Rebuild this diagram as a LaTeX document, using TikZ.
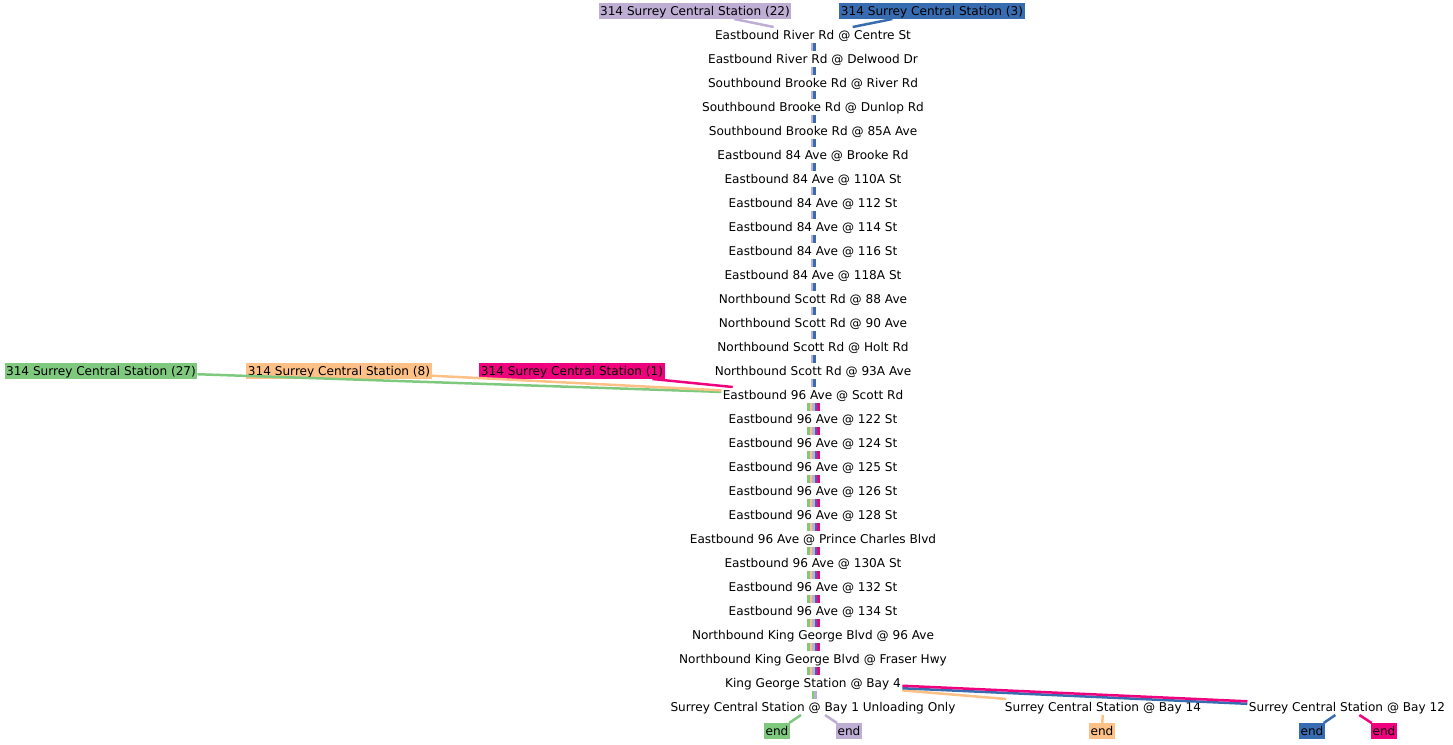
\documentclass[tikz,border=0pt]{standalone}
\usepackage{fontspec}
\setmainfont{DejaVu Sans}
\usetikzlibrary{positioning}
\definecolor{RouteGreen}{HTML}{7FC97F}
\definecolor{RouteLav}{HTML}{BEAED4}
\definecolor{RouteOrange}{HTML}{FDC086}
\definecolor{RouteBlue}{HTML}{386CB0}
\definecolor{RouteMagenta}{HTML}{F0027F}
\tikzset{
  stopbox/.style={inner xsep=1.5pt,inner ysep=0pt,outer sep=0pt,minimum height=16pt,
    text height=10pt,text depth=2pt,font=\fontsize{12.1}{14}\selectfont},
  tripbox/.style={stopbox,fill=#1},
  leg/.style={line width=2.5pt,draw=#1},
  greenflow/.style={leg=RouteGreen},
  lavflow/.style={leg=RouteLav},
  orangeflow/.style={leg=RouteOrange},
  blueflow/.style={leg=RouteBlue},
  magentaflow/.style={leg=RouteMagenta}
}
\begin{document}
\begin{tikzpicture}[x=1pt,y=1pt,node distance=8pt]
  \useasboundingbox (0,0) rectangle (1453,-744);
  % trip origins
  \node[tripbox=RouteLav] (trip22) at (695,-11) {314 Surrey Central Station (22)};
  \node[tripbox=RouteBlue] (trip3) at (932,-11) {314 Surrey Central Station (3)};
  \node[tripbox=RouteGreen] (trip27) at (101,-371) {314 Surrey Central Station (27)};
  \node[tripbox=RouteOrange] (trip8) at (339,-371) {314 Surrey Central Station (8)};
  \node[tripbox=RouteMagenta] (trip1) at (572,-371) {314 Surrey Central Station (1)};

  % stops along the route
  \node[stopbox] (s1) at (813,-35) {Eastbound River Rd @ Centre St};
  \node[stopbox,below=of s1] (s2) {Eastbound River Rd @ Delwood Dr};
  \node[stopbox,below=of s2] (s3) {Southbound Brooke Rd @ River Rd};
  \node[stopbox,below=of s3] (s4) {Southbound Brooke Rd @ Dunlop Rd};
  \node[stopbox,below=of s4] (s5) {Southbound Brooke Rd @ 85A Ave};
  \node[stopbox,below=of s5] (s6) {Eastbound 84 Ave @ Brooke Rd};
  \node[stopbox,below=of s6] (s7) {Eastbound 84 Ave @ 110A St};
  \node[stopbox,below=of s7] (s8) {Eastbound 84 Ave @ 112 St};
  \node[stopbox,below=of s8] (s9) {Eastbound 84 Ave @ 114 St};
  \node[stopbox,below=of s9] (s10) {Eastbound 84 Ave @ 116 St};
  \node[stopbox,below=of s10] (s11) {Eastbound 84 Ave @ 118A St};
  \node[stopbox,below=of s11] (s12) {Northbound Scott Rd @ 88 Ave};
  \node[stopbox,below=of s12] (s13) {Northbound Scott Rd @ 90 Ave};
  \node[stopbox,below=of s13] (s14) {Northbound Scott Rd @ Holt Rd};
  \node[stopbox,below=of s14] (s15) {Northbound Scott Rd @ 93A Ave};
  \node[stopbox,below=of s15] (s16) {Eastbound 96 Ave @ Scott Rd};
  \node[stopbox,below=of s16] (s17) {Eastbound 96 Ave @ 122 St};
  \node[stopbox,below=of s17] (s18) {Eastbound 96 Ave @ 124 St};
  \node[stopbox,below=of s18] (s19) {Eastbound 96 Ave @ 125 St};
  \node[stopbox,below=of s19] (s20) {Eastbound 96 Ave @ 126 St};
  \node[stopbox,below=of s20] (s21) {Eastbound 96 Ave @ 128 St};
  \node[stopbox,below=of s21] (s22) {Eastbound 96 Ave @ Prince Charles Blvd};
  \node[stopbox,below=of s22] (s23) {Eastbound 96 Ave @ 130A St};
  \node[stopbox,below=of s23] (s24) {Eastbound 96 Ave @ 132 St};
  \node[stopbox,below=of s24] (s25) {Eastbound 96 Ave @ 134 St};
  \node[stopbox,below=of s25] (s26) {Northbound King George Blvd @ 96 Ave};
  \node[stopbox,below=of s26] (s27) {Northbound King George Blvd @ Fraser Hwy};
  \node[stopbox,below=of s27] (s28) {King George Station @ Bay 4};
  \node[stopbox,below=of s28] (bay1) {Surrey Central Station @ Bay 1 Unloading Only};
  \node[stopbox] (bay14) at (1103,-707) {Surrey Central Station @ Bay 14};
  \node[stopbox] (bay12) at (1347,-707) {Surrey Central Station @ Bay 12};

  % trip ends
  \node[tripbox=RouteGreen] (endgreen) at (777,-731) {end};
  \node[tripbox=RouteLav] (endlav) at (849,-731) {end};
  \node[tripbox=RouteOrange] (endorange) at (1102,-731) {end};
  \node[tripbox=RouteBlue] (endblue) at (1312,-731) {end};
  \node[tripbox=RouteMagenta] (endmag) at (1384,-731) {end};

  % legs into the route
  \draw[lavflow] (trip22) -- (s1);
  \draw[blueflow] (trip3) -- (s1);
  \draw[greenflow] (trip27) -- (s16);
  \draw[orangeflow] (trip8) -- (s16);
  \draw[magentaflow] (trip1) -- (s16);

  % shared legs between stops
  \foreach \i in {1,...,15} {
    \pgfmathtruncatemacro\j{\i+1}
    \draw[lavflow] ([xshift=-0.8pt]s\i.south) -- ([xshift=-0.8pt]s\j.north);
    \draw[blueflow] ([xshift=1.7pt]s\i.south) -- ([xshift=1.7pt]s\j.north);
  }
  \foreach \i in {16,...,27} {
    \pgfmathtruncatemacro\j{\i+1}
    \draw[greenflow] ([xshift=-4.3pt]s\i.south) -- ([xshift=-4.3pt]s\j.north);
    \draw[orangeflow] ([xshift=-1.8pt]s\i.south) -- ([xshift=-1.8pt]s\j.north);
    \draw[lavflow] ([xshift=0.7pt]s\i.south) -- ([xshift=0.7pt]s\j.north);
    \draw[blueflow] ([xshift=3.2pt]s\i.south) -- ([xshift=3.2pt]s\j.north);
    \draw[magentaflow] ([xshift=5.7pt]s\i.south) -- ([xshift=5.7pt]s\j.north);
  }
  \draw[greenflow] ([xshift=-0.2pt]s28.south) -- ([xshift=-0.2pt]bay1.north);
  \draw[lavflow] ([xshift=2.3pt]s28.south) -- ([xshift=2.3pt]bay1.north);

  % legs to the terminal bays
  \draw[orangeflow] (s28) -- (bay14);
  \draw[blueflow,transform canvas={yshift=-1.25pt}] (s28) -- (bay12);
  \draw[magentaflow,transform canvas={yshift=1.25pt}] (s28) -- (bay12);

  % legs to the ends
  \draw[greenflow] (bay1) -- (endgreen);
  \draw[lavflow] (bay1) -- (endlav);
  \draw[orangeflow] (bay14) -- (endorange);
  \draw[blueflow] (bay12) -- (endblue);
  \draw[magentaflow] (bay12) -- (endmag);
\end{tikzpicture}
\end{document}
